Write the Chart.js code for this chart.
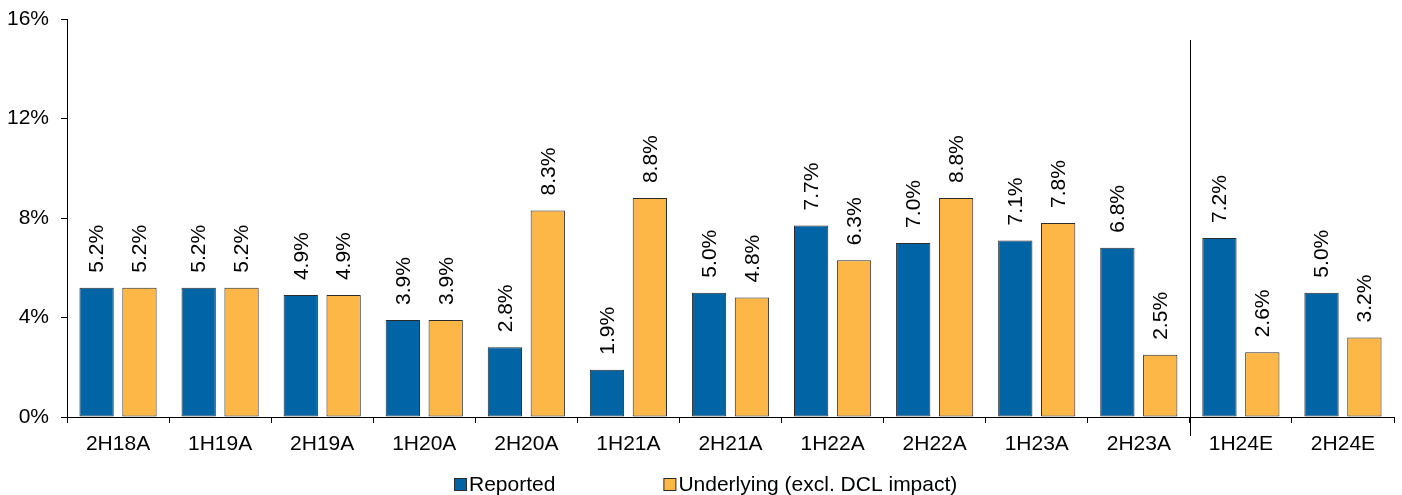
<!DOCTYPE html>
<html>
<head>
<meta charset="utf-8">
<script src="https://cdn.jsdelivr.net/npm/chart.js@4.4.1/dist/chart.umd.min.js"></script>
<style>
  html, body { margin: 0; padding: 0; background: #fff; }
  #wrap { width: 1402px; height: 495px; }
</style>
</head>
<body>
<div id="wrap"><canvas id="c" width="1402" height="495"></canvas></div>
<script>
// Half-year periods; the last two are estimates
const categories = ['2H18A', '1H19A', '2H19A', '1H20A', '2H20A', '1H21A', '2H21A',
                    '1H22A', '2H22A', '1H23A', '2H23A', '1H24E', '2H24E'];
const reported   = [5.2, 5.2, 4.9, 3.9, 2.8, 1.9, 5.0, 7.7, 7.0, 7.1, 6.8, 7.2, 5.0];
const underlying = [5.2, 5.2, 4.9, 3.9, 8.3, 8.8, 4.8, 6.3, 8.8, 7.8, 2.5, 2.6, 3.2];
const seriesNames = ['Reported', 'Underlying (excl. DCL impact)'];
const yMin = 0, yMax = 16, yStep = 4;
const firstEstimate = 11; // index of the first estimated period

const FONT = 'Arial, "Liberation Sans", sans-serif';
const FS = 21;
const BLUE = '#0064A5';
const ORANGE = '#FDB747';
const EDGE = '#2b2b2b';

// Rotated value labels above each bar
const valueLabels = {
  id: 'valueLabels',
  afterDatasetsDraw(chart) {
    const ctx = chart.ctx;
    ctx.save();
    ctx.font = FS + 'px ' + FONT;
    ctx.fillStyle = '#000';
    ctx.textAlign = 'left';
    ctx.textBaseline = 'middle';
    chart.data.datasets.forEach((ds, di) => {
      chart.getDatasetMeta(di).data.forEach((bar, i) => {
        ctx.save();
        ctx.translate(bar.x + 1, bar.y - 15);
        ctx.rotate(-Math.PI / 2);
        ctx.fillText(ds.data[i].toFixed(1) + '%', 0, 0);
        ctx.restore();
      });
    });
    ctx.restore();
  }
};

// Divider between actual and estimated periods
const divider = {
  id: 'divider',
  afterDatasetsDraw(chart) {
    const x = chart.scales.x;
    const px = Math.round((x.getPixelForTick(firstEstimate - 1) + x.getPixelForTick(firstEstimate)) / 2) + 0.5;
    const ctx = chart.ctx;
    ctx.save();
    ctx.strokeStyle = '#000';
    ctx.lineWidth = 1;
    ctx.beginPath();
    ctx.moveTo(px, chart.chartArea.top + 21);
    ctx.lineTo(px, chart.chartArea.bottom + 19);
    ctx.stroke();
    ctx.restore();
  }
};

// Legend row under the axis
const bottomLegend = {
  id: 'bottomLegend',
  afterDraw(chart) {
    const ctx = chart.ctx;
    ctx.save();
    ctx.font = FS + 'px ' + FONT;
    ctx.textBaseline = 'middle';
    ctx.textAlign = 'left';
    const box = 12, gapText = 3, gapItems = 108;
    const items = chart.data.datasets.map(ds => ({
      color: ds.backgroundColor, text: ds.label,
      w: box + gapText + ctx.measureText(ds.label).width
    }));
    const total = items.reduce((s, it) => s + it.w, 0) + gapItems * (items.length - 1);
    let x = Math.round(706 - total / 2);
    const cy = 484;
    items.forEach(it => {
      ctx.fillStyle = it.color;
      ctx.fillRect(x + 0.5, cy - box / 2 + 0.5, box, box);
      ctx.strokeStyle = EDGE;
      ctx.lineWidth = 1;
      ctx.strokeRect(x + 0.5, cy - box / 2 + 0.5, box, box);
      ctx.fillStyle = '#000';
      ctx.fillText(it.text, x + box + gapText, cy + 1);
      x += it.w + gapItems;
    });
    ctx.restore();
  }
};

new Chart(document.getElementById('c'), {
  type: 'bar',
  data: {
    labels: categories,
    datasets: [
      { label: seriesNames[0], data: reported, backgroundColor: BLUE,
        borderColor: EDGE, borderWidth: 1, borderSkipped: false },
      { label: seriesNames[1], data: underlying, backgroundColor: ORANGE,
        borderColor: EDGE, borderWidth: 1, borderSkipped: false }
    ]
  },
  options: {
    responsive: false,
    animation: false,
    devicePixelRatio: 1,
    categoryPercentage: 0.84,
    barPercentage: 0.8,
    layout: { padding: { left: 0, right: 8, top: 19, bottom: 0 } },
    plugins: { legend: { display: false }, tooltip: { enabled: false } },
    scales: {
      x: {
        grid: { display: true, drawOnChartArea: false, offset: true,
                tickLength: 6, color: '#000', lineWidth: 1 },
        border: { display: true, color: '#000', width: 1 },
        ticks: { color: '#000', font: { family: FONT, size: FS }, padding: 9,
                 maxRotation: 0, autoSkip: false },
        afterFit(scale) { scale.height = 78; scale.paddingLeft = 0; scale.paddingRight = 0; }
      },
      y: {
        min: yMin, max: yMax,
        grid: { display: true, drawOnChartArea: false, tickLength: 6,
                color: '#000', lineWidth: 1 },
        border: { display: true, color: '#000', width: 1 },
        ticks: { stepSize: yStep, color: '#000', font: { family: FONT, size: FS },
                 padding: 12, callback: v => v + '%' },
        afterFit(scale) { scale.width = 67; scale.paddingTop = 0; scale.paddingBottom = 0; }
      }
    }
  },
  plugins: [valueLabels, divider, bottomLegend]
});
</script>
</body>
</html>
